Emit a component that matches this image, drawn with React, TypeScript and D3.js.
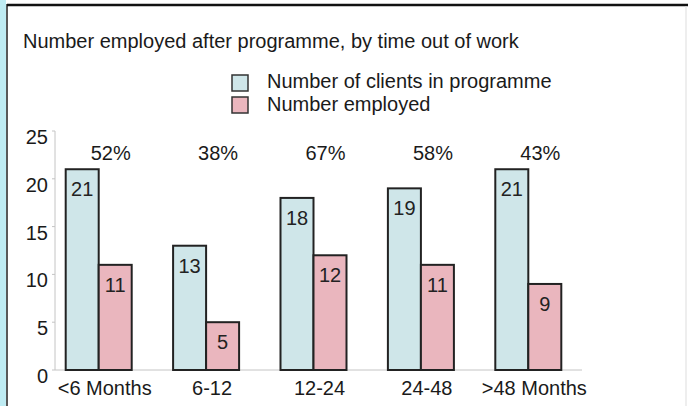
import React from 'react';
import * as d3 from 'd3';

// chart values
const categories = ['<6 Months', '6-12', '12-24', '24-48', '>48 Months'];
const series = ['Number of clients in programme', 'Number employed'];
const clients = [21, 13, 18, 19, 21];
const employed = [11, 5, 12, 11, 9];
const yTicks = [0, 5, 10, 15, 20, 25];

const W = 688;
const H = 406;
const colors = ['#cfe6e9', '#eab6be'];
const font = '"Liberation Sans", Arial, sans-serif';

export default function App() {
  const x = d3.scaleBand<string>().domain(categories).range([45, 582]).padding(0);
  const y = d3.scaleLinear().domain([0, 25]).range([370, 131]);
  const barW = 33;
  const xs = d3.scaleBand<string>().domain(series).range([-barW, barW]);

  const values = [clients, employed];
  const centre = (c: string) => (x(c) ?? 0) + x.bandwidth() / 2;

  return (
    <>
      <style>{'body{margin:0}'}</style>
      <svg width={W} height={H} style={{ display: 'block', fontFamily: font }}>
        <rect x={0} y={0} width={W} height={H} fill="#fff" />
        {/* page frame */}
        <rect x={0} y={0} width={6} height={H} fill="#bfecf3" />
        <line x1={7} x2={7} y1={4} y2={H} stroke="#222" strokeWidth={1.5} />
        <line x1={7} x2={W} y1={5} y2={5} stroke="#111" strokeWidth={2.5} />
        <line x1={686} x2={686} y1={6} y2={H} stroke="#ddd" strokeWidth={1} />

        <text x={23} y={48} fontSize={20} fill="#1a1a1a">
          Number employed after programme, by time out of work
        </text>

        {/* legend */}
        {series.map((s, i) => (
          <g key={s}>
            <rect x={232} y={75 + i * 22} width={16} height={16} fill={colors[i]} stroke="#333" strokeWidth={1.5} />
            <text x={267} y={88 + i * 23} fontSize={20} fill="#1a1a1a">{s}</text>
          </g>
        ))}

        {/* axes */}
        <line x1={55} x2={55} y1={y(25)} y2={y(0)} stroke="#c4c4c4" />
        <line x1={55} x2={582} y1={y(0)} y2={y(0)} stroke="#c4c4c4" />
        {yTicks.map(t => (
          <g key={t}>
            <line x1={52} x2={55} y1={y(t)} y2={y(t)} stroke="#c4c4c4" />
            <text x={48} y={y(t) + 13} fontSize={20} textAnchor="end" fill="#1a1a1a">{t}</text>
          </g>
        ))}

        {/* bars */}
        {categories.map((c, ci) => (
          <g key={c}>
            {series.map((s, si) => {
              const v = values[si][ci];
              const bx = centre(c) + (xs(s) ?? 0);
              return (
                <g key={s}>
                  <rect x={bx} y={y(v)} width={xs.bandwidth()} height={y(0) - y(v)}
                    fill={colors[si]} stroke="#222" strokeWidth={2} />
                  <text x={bx + xs.bandwidth() / 2} y={y(v) + 27} fontSize={20}
                    textAnchor="middle" fill="#222">{v}</text>
                </g>
              );
            })}
            <text x={centre(c) + 12} y={y(22)} fontSize={20} textAnchor="middle" fill="#1a1a1a">
              {Math.round((employed[ci] / clients[ci]) * 100)}%
            </text>
            <text x={centre(c) + 6} y={395} fontSize={20} textAnchor="middle" fill="#1a1a1a">{c}</text>
          </g>
        ))}
      </svg>
    </>
  );
}
